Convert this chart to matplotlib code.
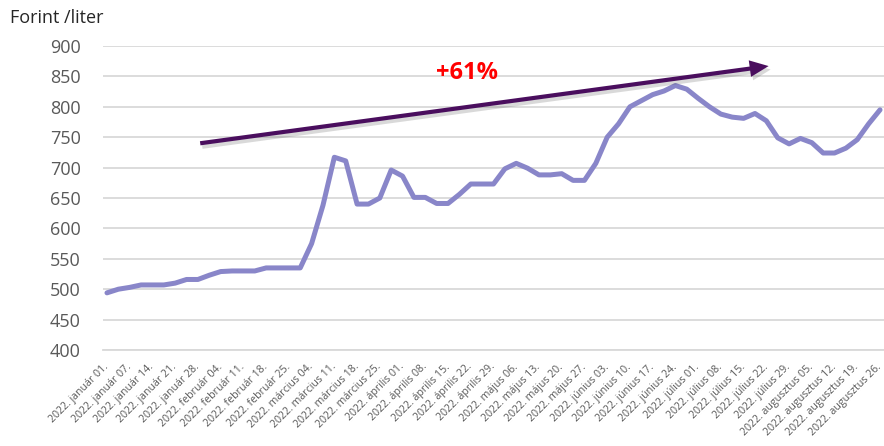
import matplotlib
matplotlib.use("Agg")
import matplotlib.pyplot as plt
import matplotlib.patheffects as pe
import numpy as np

plt.rcParams['font.family'] = ['Open Sans', 'DejaVu Sans']

# Data: twice-weekly fuel price (Forint / liter), 2022
prices = [494, 500, 503, 507, 507, 507, 510, 516, 516, 523,
          529, 530, 530, 530, 535, 535, 535, 535, 575, 638,
          717, 711, 640, 640, 650, 696, 686, 651, 651, 641,
          641, 656, 673, 673, 673, 698, 707, 699, 688, 688,
          690, 679, 679, 707, 750, 772, 800, 810, 820, 826,
          835, 829, 814, 800, 788, 783, 781, 789, 777, 749,
          739, 748, 741, 724, 724, 732, 746, 772, 795]

tick_labels = ["2022. január 01.", "2022. január 07.", "2022. január 14.", "2022. január 21.",
               "2022. január 28.", "2022. február 04.", "2022. február 11.", "2022. február 18.",
               "2022. február 25.", "2022. március 04.", "2022. március 11.", "2022. március 18.",
               "2022. március 25.", "2022. április 01.", "2022. április 08.", "2022. április 15.",
               "2022. április 22.", "2022. április 29.", "2022. május 06.", "2022. május 13.",
               "2022. május 20.", "2022. május 27.", "2022. június 03.", "2022. június 10.",
               "2022. június 17.", "2022. június 24.", "2022. július 01.", "2022. július 08.",
               "2022. július 15.", "2022. július 22.", "2022. július 29.", "2022. augusztus 05.",
               "2022. augusztus 12.", "2022. augusztus 19.", "2022. augusztus 26."]

y_ticks = [400, 450, 500, 550, 600, 650, 700, 750, 800, 850, 900]

arrow_start = (8.2, 740)
arrow_end = (58.2, 867)
annotation_text = "+61%"
annotation_pos = (31.7, 856)

W, H = 884, 446
fig = plt.figure(figsize=(W / 100, H / 100), dpi=100)
ax = fig.add_axes([103 / W, (H - 350) / H, (884 - 103) / W, (350 - 46) / H])

x = np.arange(len(prices))
ax.plot(x, prices, color='#8986C9', lw=3.6, solid_joinstyle='round', solid_capstyle='round', zorder=3)

ax.set_xlim(-0.35, 68.35)
ax.set_ylim(400, 900)
ax.set_yticks(y_ticks)
ax.set_yticklabels([str(v) for v in y_ticks], fontsize=13, color='#595959')
ax.yaxis.grid(True, color='#D9D9D9', lw=1.3)
ax.set_axisbelow(True)

tick_pos = x[::2]
ax.set_xticks(tick_pos)
ax.set_xticklabels(tick_labels, rotation=45, ha='right', va='center',
                   rotation_mode='anchor', fontsize=7.7, color='#595959')
ax.tick_params(axis='both', length=0)
ax.tick_params(axis='y', pad=16)
ax.tick_params(axis='x', pad=11)

for s in ['top', 'right', 'left']:
    ax.spines[s].set_visible(False)
ax.spines['bottom'].set_color('#D9D9D9')
ax.spines['bottom'].set_linewidth(1.3)

ax.annotate('', xy=arrow_end, xytext=arrow_start,
            arrowprops=dict(arrowstyle='simple,head_length=0.68,head_width=0.6,tail_width=0.15',
                            facecolor='#4A0E5E', edgecolor='none', lw=0,
                            shrinkA=0, shrinkB=0, mutation_scale=20,
                            path_effects=[pe.SimplePatchShadow(offset=(1.5, -2.5), alpha=0.22,
                                                               shadow_rgbFace='#555555'),
                                          pe.Normal()]),
            zorder=4)

ax.text(annotation_pos[0], annotation_pos[1], annotation_text, color='#FF0000',
        fontsize=17, fontweight='bold', ha='center', va='center', zorder=5)

fig.text(10 / W, 1 - 18 / H, "Forint /liter", fontsize=13, color='#262626',
         ha='left', va='center')

fig.savefig('out.png', dpi=100)
